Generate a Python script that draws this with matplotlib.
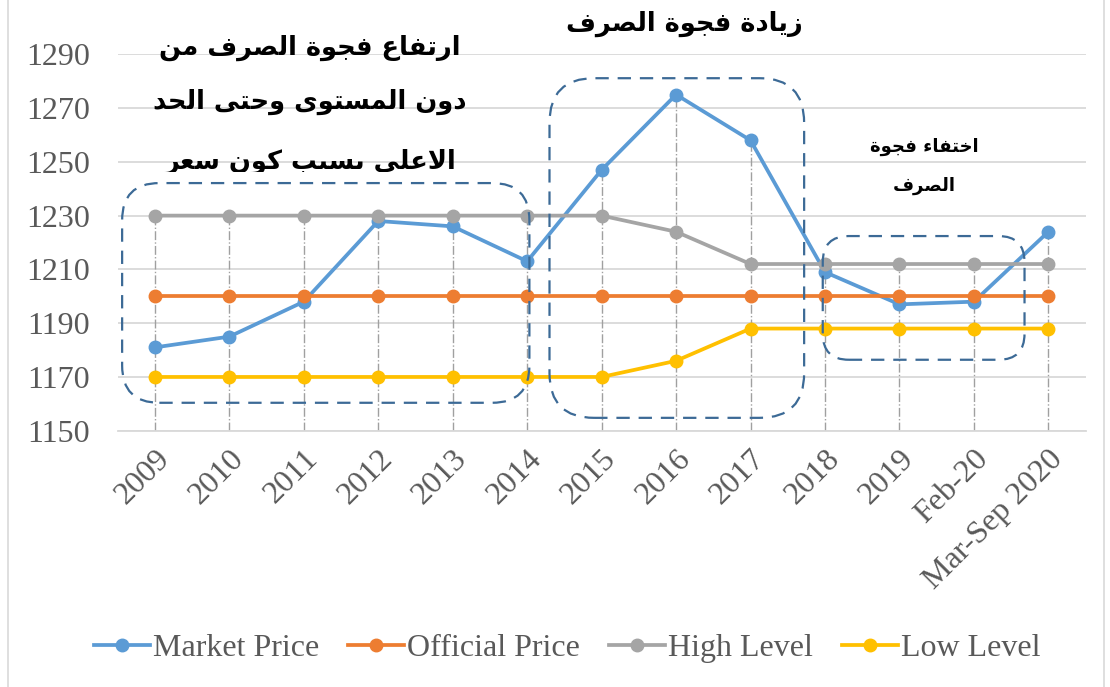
import matplotlib
matplotlib.use("Agg")
import matplotlib.pyplot as plt
from matplotlib.patches import FancyBboxPatch, Rectangle
from matplotlib.lines import Line2D

# Data
categories = ["2009", "2010", "2011", "2012", "2013", "2014", "2015", "2016",
              "2017", "2018", "2019", "Feb-20", "Mar-Sep 2020"]
market_price = [1181, 1185, 1198, 1228, 1226, 1213, 1247, 1275, 1258, 1209, 1197, 1198, 1224]
official_price = [1200] * 13
high_level = [1230, 1230, 1230, 1230, 1230, 1230, 1230, 1224, 1212, 1212, 1212, 1212, 1212]
low_level = [1170, 1170, 1170, 1170, 1170, 1170, 1170, 1176, 1188, 1188, 1188, 1188, 1188]
y_ticks = [1150, 1170, 1190, 1210, 1230, 1250, 1270, 1290]

series_names = ["Market Price", "Official Price", "High Level", "Low Level"]
series_colors = ["#5B9BD5", "#ED7D31", "#A5A5A5", "#FFC000"]

note_gap_rise = ["ارتفاع فجوة الصرف من", "دون المستوى وحتى الحد", "الاعلى بسبب كون سعر"]
note_gap_up = "زيادة فجوة الصرف"
note_gap_gone = ["اختفاء فجوة", "الصرف"]


# Minimal Arabic shaping: (isolated, final, initial, medial)
FORMS = {
    "ا": (0xFE8D, 0xFE8E, None, None), "ب": (0xFE8F, 0xFE90, 0xFE91, 0xFE92),
    "ة": (0xFE93, 0xFE94, None, None), "ت": (0xFE95, 0xFE96, 0xFE97, 0xFE98),
    "ج": (0xFE9D, 0xFE9E, 0xFE9F, 0xFEA0), "ح": (0xFEA1, 0xFEA2, 0xFEA3, 0xFEA4),
    "خ": (0xFEA5, 0xFEA6, 0xFEA7, 0xFEA8), "د": (0xFEA9, 0xFEAA, None, None),
    "ر": (0xFEAD, 0xFEAE, None, None), "ز": (0xFEAF, 0xFEB0, None, None),
    "س": (0xFEB1, 0xFEB2, 0xFEB3, 0xFEB4), "ص": (0xFEB9, 0xFEBA, 0xFEBB, 0xFEBC),
    "ع": (0xFEC9, 0xFECA, 0xFECB, 0xFECC), "ف": (0xFED1, 0xFED2, 0xFED3, 0xFED4),
    "ك": (0xFED9, 0xFEDA, 0xFEDB, 0xFEDC), "ل": (0xFEDD, 0xFEDE, 0xFEDF, 0xFEE0),
    "م": (0xFEE1, 0xFEE2, 0xFEE3, 0xFEE4), "ن": (0xFEE5, 0xFEE6, 0xFEE7, 0xFEE8),
    "ه": (0xFEE9, 0xFEEA, 0xFEEB, 0xFEEC), "و": (0xFEED, 0xFEEE, None, None),
    "ى": (0xFEEF, 0xFEF0, None, None), "ي": (0xFEF1, 0xFEF2, 0xFEF3, 0xFEF4),
    "ء": (0xFE80, None, None, None),
}


def shape(text):
    """ Join Arabic letters into presentation forms and put them in visual order. """
    out = []
    chars = list(text)
    i = 0
    prev_joins = False
    while i < len(chars):
        c = chars[i]
        if c not in FORMS:
            out.append(c)
            prev_joins = False
            i += 1
            continue
        # lam-alef ligature
        if c == "ل" and i + 1 < len(chars) and chars[i + 1] == "ا":
            out.append(chr(0xFEFC if prev_joins else 0xFEFB))
            prev_joins = False
            i += 2
            continue
        iso, fin, ini, med = FORMS[c]
        nxt = chars[i + 1] if i + 1 < len(chars) else ""
        next_joins = ini is not None and nxt in FORMS and FORMS[nxt][1] is not None
        if prev_joins and fin is not None:
            code = med if next_joins else fin
        else:
            code = ini if next_joins else iso
        out.append(chr(code))
        prev_joins = next_joins
        i += 1
    return "".join(reversed(out))


plt.rcParams["font.family"] = ["Liberation Serif", "DejaVu Serif"]

fig = plt.figure(figsize=(11.1, 6.87), dpi=100)
ax = fig.add_axes([0.106, 0.373, 0.872, 0.548])

x = list(range(len(categories)))
all_series = [market_price, official_price, high_level, low_level]

# drop lines
tops = [max(v) for v in zip(*all_series)]
ax.vlines(x, y_ticks[0], tops, colors="#A0A0A0", linestyles="dashdot", linewidth=1, zorder=1)

for vals, name, col in zip(all_series, series_names, series_colors):
    ax.plot(x, vals, color=col, linewidth=2.7, marker="o", markersize=9,
            label=name, zorder=3)

ax.set_xlim(-0.5, len(categories) - 0.5)
ax.set_ylim(y_ticks[0], y_ticks[-1])
ax.set_yticks(y_ticks)
ax.yaxis.grid(True, color="#D9D9D9", linewidth=1.3)
ax.set_axisbelow(True)
ax.set_xticks(x)
ax.set_xticklabels(categories, rotation=45, ha="right", va="top", rotation_mode="anchor")
ax.tick_params(axis="both", length=0, labelsize=23, labelcolor="#595959")
ax.tick_params(axis="x", pad=10)
ax.tick_params(axis="y", pad=20)
for s in ["left", "right", "top"]:
    ax.spines[s].set_visible(False)
ax.spines["bottom"].set_color("#D9D9D9")
ax.spines["bottom"].set_linewidth(1.3)

# dashed rounded boxes (in data coords, aspect corrected)
px_x = 74.5   # pixels per category
px_y = 2.693  # pixels per unit
aspect = px_x / px_y
boxes = [(-0.44, 1160.4, 5.47, 81.7, 0.5),
         (5.30, 1154.8, 3.42, 126.3, 0.6),
         (8.97, 1176.4, 2.71, 46.0, 0.35)]
for bx, by, bw, bh, r in boxes:
    p = FancyBboxPatch((bx, by), bw, bh, boxstyle="round,pad=0,rounding_size=%g" % r,
                       mutation_aspect=aspect, fill=False, edgecolor="#3C6A96",
                       linestyle=(0, (6, 4)), linewidth=1.6, clip_on=False, zorder=4)
    ax.add_patch(p)

arfont = dict(family=["DejaVu Sans"], weight="bold", color="black")
ys = [0.931, 0.852, 0.764]
clip = Rectangle((0, 0.749), 1, 0.3, transform=fig.transFigure, visible=False)
fig.add_artist(clip)
for line, yy in zip(note_gap_rise, ys):
    t = fig.text(0.279, yy, shape(line), ha="center", va="center", fontsize=18.5, **arfont)
    t.set_clip_path(clip)
fig.text(0.617, 0.965, shape(note_gap_up), ha="center", va="center", fontsize=18.5, **arfont)
fig.text(0.833, 0.786, shape(note_gap_gone[0]), ha="center", va="center", fontsize=13, **arfont)
fig.text(0.833, 0.729, shape(note_gap_gone[1]), ha="center", va="center", fontsize=13, **arfont)

handles = [Line2D([], [], color=c, linewidth=2.7, marker="o", markersize=9) for c in series_colors]
fig.legend(handles, series_names, loc="center", bbox_to_anchor=(0.511, 0.056), ncol=4,
           frameon=False, fontsize=23, handlelength=1.75, handletextpad=0.1,
           columnspacing=0.9, labelcolor="#595959")

# chart border
fig.add_artist(Rectangle((0.007, -0.01), 0.988, 1.05, transform=fig.transFigure,
                         fill=False, edgecolor="#D9D9D9", linewidth=1.2))

fig.savefig("out.png", dpi=100)
